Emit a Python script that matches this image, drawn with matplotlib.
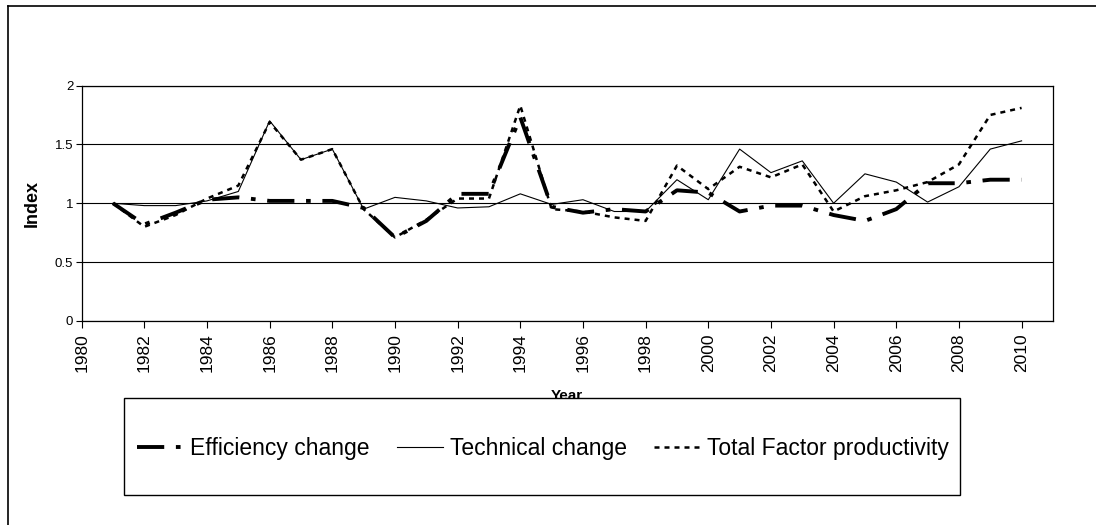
import numpy as np
import matplotlib
matplotlib.use("Agg")
import matplotlib.pyplot as plt
from matplotlib.lines import Line2D
from matplotlib.patches import Rectangle

plt.rcParams['font.family'] = ['Liberation Sans', 'DejaVu Sans']

years = list(range(1981, 2011))

efficiency = [1.00, 0.82, 0.92, 1.03, 1.05, 1.02, 1.02, 1.02, 0.96, 0.71,
              0.85, 1.08, 1.08, 1.73, 0.97, 0.92, 0.95, 0.93, 1.11, 1.09,
              0.93, 0.98, 0.98, 0.90, 0.85, 0.95, 1.17, 1.17, 1.20, 1.20]

technical = [1.00, 0.98, 0.98, 1.02, 1.10, 1.70, 1.37, 1.46, 0.95, 1.05,
             1.02, 0.96, 0.97, 1.08, 0.99, 1.03, 0.93, 0.93, 1.20, 1.03,
             1.46, 1.26, 1.36, 1.00, 1.25, 1.18, 1.01, 1.14, 1.46, 1.53]

tfp = [1.00, 0.80, 0.90, 1.04, 1.15, 1.69, 1.37, 1.46, 0.95, 0.71,
       0.86, 1.04, 1.04, 1.83, 0.95, 0.93, 0.88, 0.85, 1.32, 1.12,
       1.31, 1.22, 1.33, 0.93, 1.06, 1.11, 1.18, 1.33, 1.75, 1.81]

labels = ['Efficiency change', 'Technical change', 'Total Factor productivity']

fig = plt.figure(figsize=(10.96, 5.25), dpi=100)
ax = fig.add_axes([0.0745, 0.3886, 0.8862, 0.4485])

l1, = ax.plot(years, efficiency, color='black', lw=2.8, dashes=(7, 3, 1.2, 3),
              dash_capstyle='butt', solid_joinstyle='miter')
l2, = ax.plot(years, technical, color='black', lw=0.8)
l3, = ax.plot(years, tfp, color='black', lw=1.8, dashes=(2, 2), dash_capstyle='butt')

ax.set_xlim(1980, 2011)
ax.set_ylim(0, 2)
ax.set_xticks(range(1980, 2011, 2))
ax.set_yticks([0, 0.5, 1, 1.5, 2])
ax.set_yticklabels(['0', '0.5', '1', '1.5', '2'])
ax.tick_params(axis='x', labelrotation=90, labelsize=12.5, length=5, width=0.8, direction='out', pad=4)
ax.tick_params(axis='y', labelsize=9.5, length=4, width=0.8, direction='out', pad=2)
ax.yaxis.grid(True, color='black', lw=0.8)
ax.set_axisbelow(True)
for s in ax.spines.values():
    s.set_color('black')
    s.set_linewidth(0.9)

ax.set_ylabel('Index', fontsize=13, fontweight='bold', labelpad=10)
ax.set_xlabel('Year', fontsize=11, fontweight='bold', labelpad=12)

# legend box
fig.add_artist(Rectangle((124 / 1096, 30 / 525), 836 / 1096, 97 / 525,
                         transform=fig.transFigure, facecolor='white',
                         edgecolor='black', lw=1.0, zorder=4))
fig.legend([l1, l2, l3], labels, loc='center', ncol=3, frameon=False,
           bbox_to_anchor=(543 / 1096, 76 / 525), fontsize=16.5,
           handlelength=2.0, handletextpad=0.3, columnspacing=1.2)

# outer chart frame (top and left edges only)
fig.add_artist(Line2D([8 / 1096, 8 / 1096], [0, 1 - 6 / 525],
                      transform=fig.transFigure, color='black', lw=1.2))
fig.add_artist(Line2D([8 / 1096, 1], [1 - 6 / 525, 1 - 6 / 525],
                      transform=fig.transFigure, color='black', lw=1.2))

fig.savefig('out.png', dpi=100)
